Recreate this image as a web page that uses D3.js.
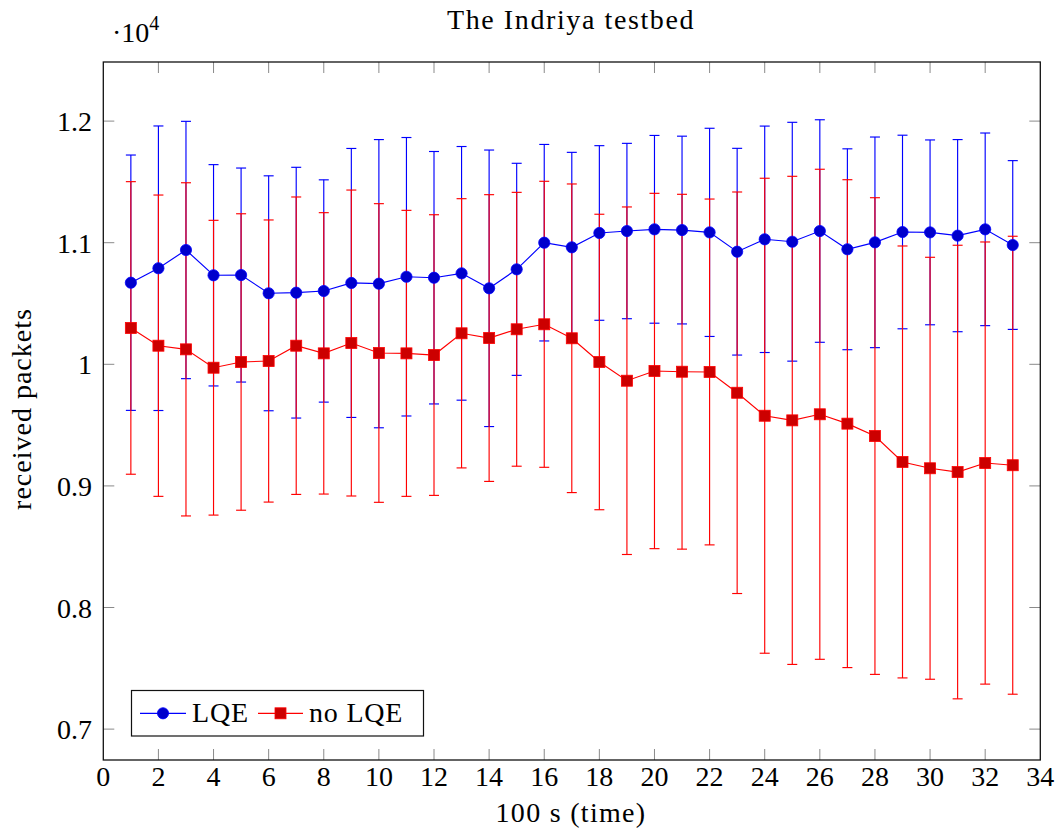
<!DOCTYPE html>
<html><head><meta charset="utf-8">
<script src="https://cdn.jsdelivr.net/npm/d3@7"></script>
<style>body{margin:0;background:#fff}</style>
</head><body>
<svg id="c" width="1058" height="834"></svg>
<script>
const timeSteps = [1,2,3,4,5,6,7,8,9,10,11,12,13,14,15,16,17,18,19,20,21,22,23,24,25,26,27,28,29,30,31,32,33];
const lqeMean = [10671,10790,10940,10732,10734,10584,10589,10603,10669,10663,10720,10712,10748,10625,10781,11000,10962,11080,11096,11110,11104,11085,10926,11028,11008,11096,10946,11003,11088,11085,11058,11110,10981];
const lqeErr = [1050,1170,1058,910,880,966,1031,914,1106,1185,1145,1038,1043,1137,872,808,781,718,721,772,772,856,850,931,982,915,826,866,796,760,790,792,694];
const noLqeMean = [10299,10153,10123,9972,10019,10027,10153,10090,10175,10093,10090,10076,10255,10216,10288,10329,10214,10019,9865,9945,9939,9937,9766,9577,9539,9589,9512,9410,9197,9145,9114,9188,9170];
const noLqeErr = [1203,1239,1370,1212,1219,1160,1223,1157,1258,1228,1176,1154,1107,1179,1126,1176,1269,1215,1429,1461,1459,1422,1651,1953,2007,2015,2006,1960,1776,1735,1865,1818,1883];
const xTicks = [0,2,4,6,8,10,12,14,16,18,20,22,24,26,28,30,32,34];
const yTicks = [7000,8000,9000,10000,11000,12000];
const yTickLabels = ["0.7","0.8","0.9","1","1.1","1.2"];
const seriesNames = ["LQE","no LQE"];

const svg = d3.select("#c");
const L = 103.3, R = 1040.3, T = 62, B = 760;
const x = d3.scaleLinear().domain([0,34]).range([L,R]);
const y = d3.scaleLinear().domain([6746,12486]).range([B,T]);
const font = "'Liberation Serif', 'Times New Roman', serif";

const series = [
  {name: seriesNames[0], mean: lqeMean, err: lqeErr, line: "#0000ff", fill: "#0000cc", mark: "circle"},
  {name: seriesNames[1], mean: noLqeMean, err: noLqeErr, line: "#ff0000", fill: "#cc0000", mark: "square"}
];

// ticks (inward on all four sides)
const tickG = svg.append("g").attr("stroke","#8a8a8a").attr("stroke-width",1);
xTicks.forEach(t => {
  if (t === 0 || t === 34) return;
  tickG.append("line").attr("x1",x(t)).attr("x2",x(t)).attr("y1",B).attr("y2",B-11);
  tickG.append("line").attr("x1",x(t)).attr("x2",x(t)).attr("y1",T).attr("y2",T+11);
});
yTicks.forEach(t => {
  tickG.append("line").attr("x1",L).attr("x2",L+11).attr("y1",y(t)).attr("y2",y(t));
  tickG.append("line").attr("x1",R).attr("x2",R-11).attr("y1",y(t)).attr("y2",y(t));
});

// error bars and lines
series.forEach(s => {
  const g = svg.append("g").attr("stroke", s.line).attr("stroke-width", 1.15).attr("fill","none");
  timeSteps.forEach((t,i) => {
    const hi = s.mean[i] + s.err[i], lo = s.mean[i] - s.err[i];
    g.append("line").attr("x1",x(t)).attr("x2",x(t)).attr("y1",y(hi)).attr("y2",y(lo));
    g.append("line").attr("x1",x(t)-5).attr("x2",x(t)+5).attr("y1",y(hi)).attr("y2",y(hi));
    g.append("line").attr("x1",x(t)-5).attr("x2",x(t)+5).attr("y1",y(lo)).attr("y2",y(lo));
  });
  const line = d3.line().x((d,i)=>x(timeSteps[i])).y(d=>y(d));
  svg.append("path").datum(s.mean).attr("d",line).attr("fill","none").attr("stroke",s.line).attr("stroke-width",1.15);
});

function drawMark(g, s, cx, cy) {
  if (s.mark === "circle") {
    g.append("circle").attr("cx",cx).attr("cy",cy).attr("r",5.6).attr("fill",s.fill).attr("stroke",s.line).attr("stroke-width",0.8);
  } else {
    g.append("rect").attr("x",cx-5.5).attr("y",cy-5.5).attr("width",11).attr("height",11).attr("fill",s.fill).attr("stroke",s.line).attr("stroke-width",0.8);
  }
}
series.forEach(s => {
  const g = svg.append("g");
  timeSteps.forEach((t,i) => drawMark(g, s, x(t), y(s.mean[i])));
});

// frame
svg.append("rect").attr("x",L).attr("y",T).attr("width",R-L).attr("height",B-T)
  .attr("fill","none").attr("stroke","#111").attr("stroke-width",1.3);

// tick labels
const tl = svg.append("g").attr("font-family",font).attr("font-size",28).attr("fill","#000");
xTicks.forEach(t => tl.append("text").attr("x",x(t)).attr("y",786).attr("text-anchor","middle").text(t));
yTicks.forEach((t,i) => tl.append("text").attr("x",92).attr("y",y(t)+10).attr("text-anchor","end").text(yTickLabels[i]));

// multiplier
const mult = svg.append("text").attr("x",112).attr("y",42).attr("font-family",font).attr("font-size",28);
mult.append("tspan").text("·10");
mult.append("tspan").attr("font-size",20).attr("dy",-12).text("4");

// title and axis labels
svg.append("text").attr("x",571).attr("y",29).attr("text-anchor","middle").attr("font-family",font)
  .attr("font-size",28).attr("letter-spacing",1.6).text("The Indriya testbed");
svg.append("text").attr("x",571).attr("y",822).attr("text-anchor","middle").attr("font-family",font)
  .attr("font-size",28).attr("letter-spacing",1.3).text("100 s (time)");
svg.append("text").attr("transform","translate(31,409) rotate(-90)").attr("text-anchor","middle").attr("font-family",font)
  .attr("font-size",28).attr("letter-spacing",1).text("received packets");

// legend
const lg = svg.append("g");
lg.append("rect").attr("x",131.5).attr("y",690.5).attr("width",292).attr("height",45.5)
  .attr("fill","#fff").attr("stroke","#111").attr("stroke-width",1.2);
const legendPos = [{x0:140, x1:186, tx:192}, {x0:258, x1:303, tx:309}];
series.forEach((s,i) => {
  const p = legendPos[i], ly = 713.3;
  lg.append("line").attr("x1",p.x0).attr("x2",p.x1).attr("y1",ly).attr("y2",ly).attr("stroke",s.line).attr("stroke-width",1.15);
  drawMark(lg, s, (p.x0+p.x1)/2, ly);
  lg.append("text").attr("x",p.tx).attr("y",722).attr("font-family",font).attr("font-size",28).attr("letter-spacing",0.8).text(s.name);
});
</script>
</body></html>
